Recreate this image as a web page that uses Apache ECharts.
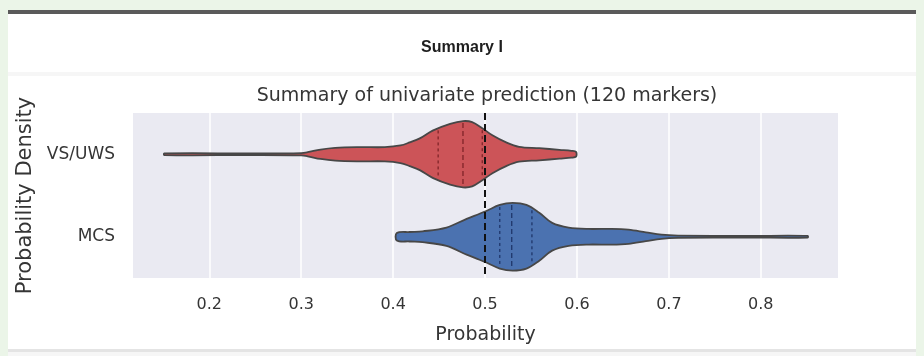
<!DOCTYPE html>
<html>
<head>
<meta charset="utf-8">
<script src="https://cdn.jsdelivr.net/npm/echarts@6/dist/echarts.min.js"></script>
<style>
html,body{margin:0;padding:0;background:#ebf5e8;}
#chart{width:924px;height:356px;}
</style>
</head>
<body>
<div id="chart"></div>
<script>
// ---- data ----
const categories = ['VS/UWS', 'MCS'];
const tickValues = [0.2, 0.3, 0.4, 0.5, 0.6, 0.7, 0.8];
const referenceValue = 0.5;

// VS/UWS violin: probability positions and relative density (1 = widest)
const vsX = [0.151, 0.245, 0.300, 0.307, 0.321, 0.337, 0.364, 0.391, 0.408, 0.418, 0.429, 0.443, 0.462, 0.476, 0.486, 0.497, 0.508, 0.523, 0.537, 0.559, 0.581, 0.594, 0.599];
const vsD = [0.025, 0.025, 0.035, 0.06, 0.14, 0.19, 0.21, 0.21, 0.26, 0.35, 0.47, 0.70, 0.90, 0.98, 0.95, 0.77, 0.56, 0.35, 0.22, 0.18, 0.13, 0.10, 0.07];
const vsQuartiles = [0.449, 0.476, 0.497];

// MCS violin
const mcsX = [0.404, 0.418, 0.432, 0.458, 0.480, 0.494, 0.502, 0.516, 0.530, 0.545, 0.559, 0.573, 0.591, 0.613, 0.638, 0.656, 0.675, 0.692, 0.710, 0.786, 0.851];
const mcsD = [0.11, 0.14, 0.16, 0.27, 0.53, 0.68, 0.77, 0.94, 1.00, 0.94, 0.71, 0.41, 0.27, 0.23, 0.235, 0.21, 0.13, 0.06, 0.035, 0.025, 0.025];
const mcsQuartiles = [0.516, 0.529, 0.551];

const chart = echarts.init(document.getElementById('chart'));

function densityAt(xs, ds, v) {
  for (let i = 0; i < xs.length - 1; i++) {
    if (v >= xs[i] && v <= xs[i + 1]) {
      const t = (v - xs[i]) / (xs[i + 1] - xs[i]);
      return ds[i] + t * (ds[i + 1] - ds[i]);
    }
  }
  return 0;
}

function makeViolin(xs, ds, qs, fill, qColor) {
  return function (params, api) {
    const cat = api.value(0);
    const band = api.size([0, 1])[1];
    const half = band * 0.41;
    const top = [], bot = [];
    for (let i = 0; i < xs.length; i++) {
      const p = api.coord([xs[i], cat]);
      top.push([p[0], p[1] - ds[i] * half]);
      bot.push([p[0], p[1] + ds[i] * half]);
    }
    const pts = top.concat(bot.reverse());
    const children = [{
      type: 'polygon',
      shape: { points: pts, smooth: 0.35 },
      style: { fill: fill, stroke: '#474747', lineWidth: 1.8 }
    }];
    qs.forEach(function (q, k) {
      const p = api.coord([q, cat]);
      const d = densityAt(xs, ds, q) * half;
      children.push({
        type: 'line',
        shape: { x1: p[0], y1: p[1] - d + 2, x2: p[0], y2: p[1] + d - 2 },
        style: { stroke: qColor, lineWidth: 1.4, lineDash: k === 1 ? [5, 3] : [3, 3] }
      });
    });
    return { type: 'group', children: children };
  };
}

const textColor = '#353535';

chart.setOption({
  backgroundColor: '#ebf5e8',
  animation: false,
  graphic: { elements: [
    { type: 'rect', z: -100, shape: { x: 8, y: 13, width: 908, height: 343 }, style: { fill: '#ffffff' } },
    { type: 'rect', z: -99, shape: { x: 8, y: 10, width: 908, height: 4 }, style: { fill: '#5a5a5a' } },
    { type: 'rect', z: -99, shape: { x: 8, y: 72, width: 908, height: 4 }, style: { fill: '#f6f6f6' } },
    { type: 'rect', z: -99, shape: { x: 8, y: 349, width: 908, height: 3 }, style: { fill: '#e4e4e4' } },
    { type: 'rect', z: -99, shape: { x: 8, y: 352, width: 908, height: 4 }, style: { fill: '#f6f6f6' } },
    { type: 'text', z: 10, x: 462, y: 48, style: { text: 'Summary I', fill: '#1e1e1e', font: 'bold 16px "Liberation Sans", Arial, sans-serif', textAlign: 'center', textVerticalAlign: 'middle' } },
    { type: 'text', z: 10, x: 487, y: 96, style: { text: 'Summary of univariate prediction (120 markers)', fill: textColor, font: '19px "DejaVu Sans", sans-serif', textAlign: 'center', textVerticalAlign: 'middle' } }
  ]},
  grid: { left: 133, right: 86, top: 113, bottom: 78, show: true, backgroundColor: '#eaeaf2', borderWidth: 0 },
  xAxis: {
    type: 'value', min: 0.117, max: 0.884,
    name: 'Probability', nameLocation: 'middle', nameGap: 48,
    nameTextStyle: { fontFamily: 'DejaVu Sans', fontSize: 19, color: textColor },
    axisLine: { show: false },
    axisTick: { show: false, customValues: tickValues },
    axisLabel: { customValues: tickValues, formatter: function (v) { return v.toFixed(1); }, fontFamily: 'DejaVu Sans', fontSize: 16, color: textColor, margin: 19 },
    splitLine: { show: true, lineStyle: { color: '#ffffff', width: 1.5 } }
  },
  yAxis: {
    type: 'category', data: categories, inverse: true,
    name: 'Probability Density', nameLocation: 'middle', nameGap: 96,
    nameTextStyle: { fontFamily: 'DejaVu Sans', fontSize: 21, color: textColor },
    axisLine: { show: false }, axisTick: { show: false },
    axisLabel: { fontFamily: 'DejaVu Sans', fontSize: 17, color: textColor, margin: 18 },
    splitLine: { show: false }
  },
  series: [
    {
      type: 'custom', name: categories[0],
      renderItem: makeViolin(vsX, vsD, vsQuartiles, '#cc5458', 'rgba(110,25,30,0.75)'),
      encode: { x: 1, y: 0 },
      data: [[0, vsX[0]]],
      z: 3
    },
    {
      type: 'custom', name: categories[1],
      renderItem: makeViolin(mcsX, mcsD, mcsQuartiles, '#4b72b0', 'rgba(20,40,90,0.75)'),
      encode: { x: 1, y: 0 },
      data: [[1, mcsX[0]]],
      z: 3,
      markLine: {
        silent: true, symbol: 'none', z: 5,
        label: { show: false },
        lineStyle: { color: '#111111', type: [7, 4], width: 2 },
        data: [{ xAxis: referenceValue }]
      }
    }
  ]
});
</script>
</body>
</html>
